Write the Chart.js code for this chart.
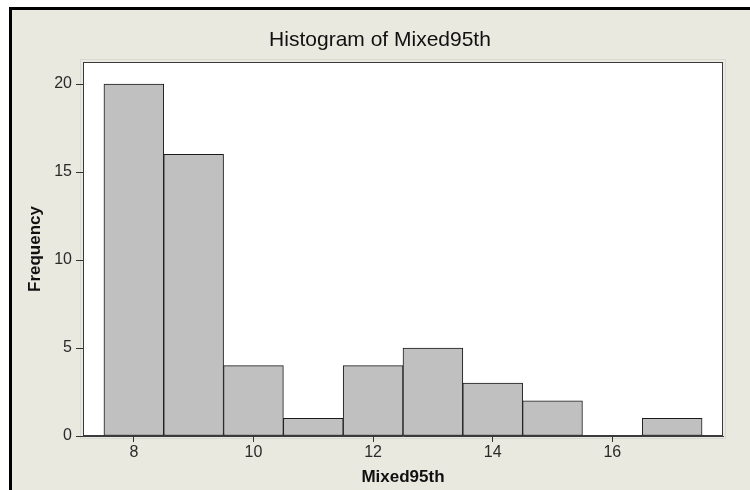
<!DOCTYPE html>
<html>
<head>
<meta charset="utf-8">
<script src="https://cdn.jsdelivr.net/npm/chart.js@4.4.1/dist/chart.umd.min.js"></script>
<style>
  html, body { margin: 0; padding: 0; background: #ffffff; }
  canvas { display: block; }
</style>
</head>
<body>
<canvas id="c" width="750" height="490"></canvas>
<script>
// ---- data ----
const chartTitle = "Histogram of Mixed95th";
const xTitle = "Mixed95th";
const yTitle = "Frequency";
const binCenters = [8, 9, 10, 11, 12, 13, 14, 15, 16, 17];
const frequencies = [20, 16, 4, 1, 4, 5, 3, 2, 0, 1];
const xTickValues = [8, 10, 12, 14, 16];
const yTickValues = [0, 5, 10, 15, 20];

const points = binCenters.map((x, i) => ({ x: x, y: frequencies[i] }));

const FONT = "'Liberation Sans', Arial, sans-serif";

const backdrop = {
  id: 'backdrop',
  beforeDraw(chart) {
    const ctx = chart.ctx;
    const a = chart.chartArea;
    ctx.save();
    ctx.fillStyle = '#ffffff';
    ctx.fillRect(0, 0, chart.width, chart.height);
    ctx.fillStyle = '#e9e9df';
    ctx.fillRect(10, 8, chart.width - 10, chart.height - 8);
    ctx.fillStyle = '#000000';
    ctx.fillRect(9, 7, 3, chart.height - 7);
    ctx.fillRect(9, 7, chart.width - 9, 3);
    // faint shadow outline around plot region
    ctx.strokeStyle = '#d8d8d4';
    ctx.lineWidth = 1;
    ctx.strokeRect(Math.round(a.left) - 2.5, Math.round(a.top) - 2.5, a.right - a.left + 5, a.bottom - a.top + 5);
    ctx.fillStyle = '#ffffff';
    ctx.fillRect(a.left, a.top, a.right - a.left, a.bottom - a.top);
    ctx.restore();
  },
  afterDatasetsDraw(chart) {
    const ctx = chart.ctx;
    const a = chart.chartArea;
    ctx.save();
    ctx.strokeStyle = '#3a3a3a';
    ctx.lineWidth = 1;
    ctx.strokeRect(Math.round(a.left) + 0.5, Math.round(a.top) + 0.5,
                   Math.round(a.right - a.left) - 1, Math.round(a.bottom - a.top) - 1);
    ctx.restore();
  },
  afterDraw(chart) {
    const ctx = chart.ctx;
    ctx.save();
    ctx.fillStyle = '#111111';
    ctx.font = '21px ' + FONT;
    ctx.textAlign = 'center';
    ctx.textBaseline = 'middle';
    ctx.fillText(chartTitle, 380, 40);
    ctx.restore();
  }
};

new Chart(document.getElementById('c'), {
  type: 'bar',
  data: {
    datasets: [{
      data: points,
      backgroundColor: '#c0c0c0',
      borderColor: '#1a1a1a',
      borderWidth: 1,
      borderSkipped: false,
      barPercentage: 1,
      categoryPercentage: 1
    }]
  },
  plugins: [backdrop],
  options: {
    responsive: false,
    animation: false,
    devicePixelRatio: 1,
    layout: { padding: { left: 10, right: 27, top: 62, bottom: 0 } },
    plugins: {
      legend: { display: false },
      title: { display: false },
      tooltip: { enabled: false }
    },
    scales: {
      x: {
        type: 'linear',
        offset: false,
        min: 7.15,
        max: 17.85,
        afterBuildTicks(scale) { scale.ticks = xTickValues.map(v => ({ value: v })); },
        afterFit(scale) { scale.height = 54; },
        grid: { display: true, offset: false, drawOnChartArea: false, drawTicks: true, tickLength: 6, color: '#333333' },
        border: { display: true, color: '#3a3a3a' },
        ticks: { color: '#2a2a2a', font: { family: FONT, size: 16 }, padding: 1, maxRotation: 0, autoSkip: false },
        title: { display: true, text: xTitle, color: '#111111', font: { family: FONT, size: 17, weight: 'bold' }, padding: { top: 0, bottom: 2 } }
      },
      y: {
        type: 'linear',
        min: 0,
        max: 21.25,
        afterBuildTicks(scale) { scale.ticks = yTickValues.map(v => ({ value: v })); },
        afterFit(scale) { scale.width = 73; },
        grid: { display: true, drawOnChartArea: false, drawTicks: true, tickLength: 7, color: '#333333' },
        border: { display: true, color: '#3a3a3a' },
        ticks: { color: '#2a2a2a', font: { family: FONT, size: 16 }, padding: 4, autoSkip: false },
        title: { display: true, text: yTitle, color: '#111111', font: { family: FONT, size: 17, weight: 'bold' }, padding: { top: 15, bottom: 0 } }
      }
    }
  }
});
</script>
</body>
</html>
